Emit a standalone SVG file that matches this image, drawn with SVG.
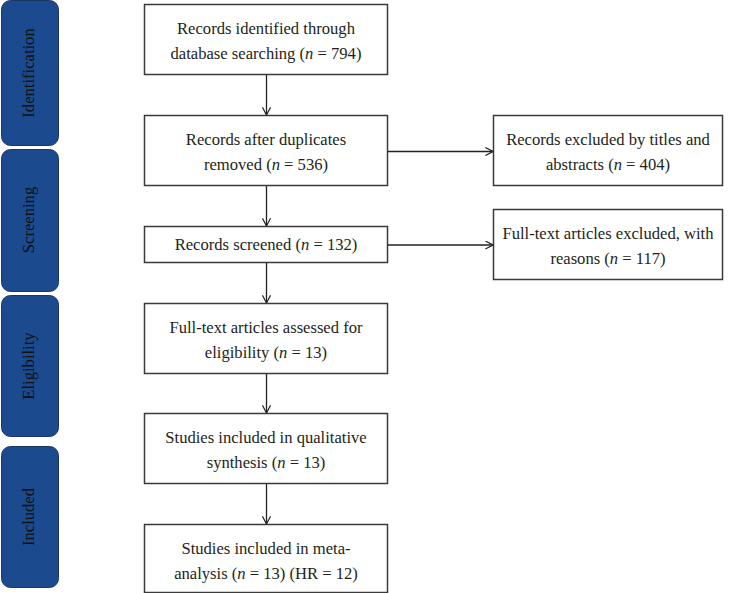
<svg xmlns="http://www.w3.org/2000/svg" width="737" height="593" viewBox="0 0 737 593">
<style>
.stage{fill:#1b4a8e;stroke:#1a3766;stroke-width:1}
.box{fill:#fff;stroke:#3a3a3a;stroke-width:1.5}
.t{font-family:"Liberation Serif","Times New Roman",serif;font-size:16.6px;fill:#231f20;text-anchor:middle}
.st{font-family:"Liberation Serif","Times New Roman",serif;font-size:16.6px;fill:#111;text-anchor:middle}
.c{stroke:#222;stroke-width:1.3;fill:none}
</style>
<defs>
<marker id="ah" viewBox="0 0 10 10" refX="9.5" refY="5" markerWidth="9" markerHeight="9" markerUnits="userSpaceOnUse" orient="auto">
<path d="M1,0.5 L9.5,5 L1,9.5" fill="none" stroke="#222" stroke-width="1.3"/>
</marker>
</defs>
<g id="stage-identification"><rect class="stage" x="1.5" y="0.5" width="57" height="145" rx="9"/><text class="st" transform="translate(34,73) rotate(-90)">Identification</text></g>
<g id="stage-screening"><rect class="stage" x="1.5" y="149.5" width="57" height="142" rx="9"/><text class="st" transform="translate(34,220) rotate(-90)">Screening</text></g>
<g id="stage-eligibility"><rect class="stage" x="1.5" y="295.5" width="57" height="141" rx="9"/><text class="st" transform="translate(34,366) rotate(-90)">Eligibility</text></g>
<g id="stage-included"><rect class="stage" x="1.5" y="446.5" width="57" height="141" rx="9"/><text class="st" transform="translate(34,517) rotate(-90)">Included</text></g>

<g id="n1"><rect class="box" x="144.5" y="4.5" width="243" height="70"/><text class="t" x="266" y="34">Records identified through</text><text class="t" x="266" y="59">database searching (<tspan font-style="italic">n</tspan> = 794)</text></g>
<g id="n2"><rect class="box" x="144.5" y="115.5" width="243" height="70"/><text class="t" x="266" y="145">Records after duplicates</text><text class="t" x="266" y="170">removed (<tspan font-style="italic">n</tspan> = 536)</text></g>
<g id="n3"><rect class="box" x="144.5" y="226.5" width="243" height="36"/><text class="t" x="266" y="250">Records screened (<tspan font-style="italic">n</tspan> = 132)</text></g>
<g id="n4"><rect class="box" x="144.5" y="303.5" width="243" height="70"/><text class="t" x="266" y="333">Full-text articles assessed for</text><text class="t" x="266" y="358">eligibility (<tspan font-style="italic">n</tspan> = 13)</text></g>
<g id="n5"><rect class="box" x="144.5" y="413.5" width="243" height="70"/><text class="t" x="266" y="443">Studies included in qualitative</text><text class="t" x="266" y="468">synthesis (<tspan font-style="italic">n</tspan> = 13)</text></g>
<g id="n6"><rect class="box" x="144.5" y="524.5" width="243" height="68"/><text class="t" x="266" y="554">Studies included in meta-</text><text class="t" x="266" y="579">analysis (<tspan font-style="italic">n</tspan> = 13) (HR = 12)</text></g>
<g id="r1"><rect class="box" x="493.5" y="115.5" width="229" height="70"/><text class="t" x="608" y="145">Records excluded by titles and</text><text class="t" x="608" y="170">abstracts (<tspan font-style="italic">n</tspan> = 404)</text></g>
<g id="r2"><rect class="box" x="493.5" y="209.5" width="229" height="70"/><text class="t" x="608" y="239">Full-text articles excluded, with</text><text class="t" x="608" y="264">reasons (<tspan font-style="italic">n</tspan> = 117)</text></g>

<g id="connectors">
<line class="c" x1="266.5" y1="75" x2="266.5" y2="115" marker-end="url(#ah)"/>
<line class="c" x1="266.5" y1="186" x2="266.5" y2="226" marker-end="url(#ah)"/>
<line class="c" x1="266.5" y1="263" x2="266.5" y2="303" marker-end="url(#ah)"/>
<line class="c" x1="266.5" y1="374" x2="266.5" y2="413" marker-end="url(#ah)"/>
<line class="c" x1="266.5" y1="484" x2="266.5" y2="524" marker-end="url(#ah)"/>
<line class="c" x1="388" y1="151.5" x2="493" y2="151.5" marker-end="url(#ah)"/>
<line class="c" x1="388" y1="245" x2="493" y2="245" marker-end="url(#ah)"/>
</g>
</svg>
